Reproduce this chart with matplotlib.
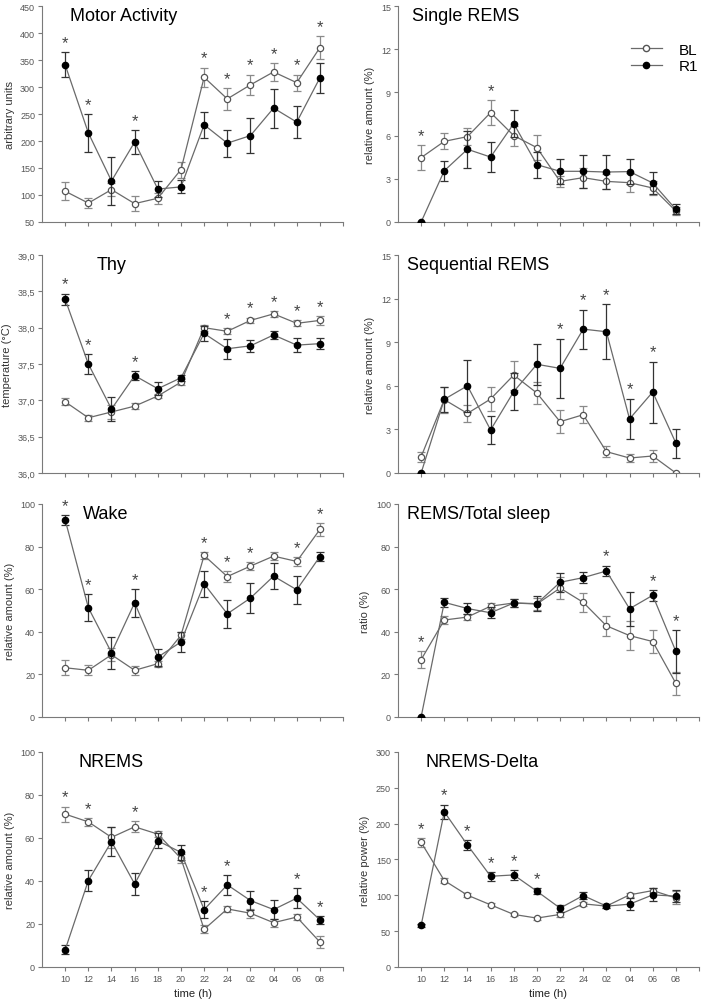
import numpy as np
import matplotlib
matplotlib.use("Agg")
import matplotlib.pyplot as plt
from matplotlib.ticker import FuncFormatter
from matplotlib.lines import Line2D

plt.rcParams['font.family'] = ['Liberation Sans', 'DejaVu Sans']

hours = ["10", "12", "14", "16", "18", "20", "22", "24", "02", "04", "06", "08"]

# motor activity
motor_bl = [107, 85, 110, 84, 94, 147, 318, 278, 304, 328, 308, 373]
motor_bl_err = [17, 10, 12, 14, 10, 15, 18, 20, 19, 16, 15, 22]
motor_r1 = [341, 215, 126, 198, 111, 115, 230, 196, 210, 261, 235, 317]
motor_r1_err = [23, 35, 44, 22, 15, 12, 24, 25, 33, 36, 29, 28]
motor_sig = [0, 1, 3, 6, 7, 8, 9, 10, 11]

# single REMS
srems_bl = [4.47, 5.6, 5.93, 7.6, 6.0, 5.16, 2.82, 3.08, 2.82, 2.73, 2.36, 0.76]
srems_bl_err = [0.85, 0.55, 0.6, 0.87, 0.7, 0.85, 0.4, 0.7, 0.5, 0.65, 0.5, 0.3]
srems_r1 = [0.0, 3.56, 5.05, 4.51, 6.83, 3.98, 3.52, 3.52, 3.47, 3.5, 2.71, 0.88]
srems_r1_err = [0.0, 0.68, 1.3, 1.05, 0.92, 0.9, 0.88, 1.13, 1.15, 0.85, 0.74, 0.35]
srems_sig = [0, 3]

# body temperature
thy_bl = [36.98, 36.76, 36.84, 36.92, 37.06, 37.25, 38.0, 37.95, 38.1, 38.19, 38.06, 38.1]
thy_bl_err = [0.05, 0.04, 0.1, 0.04, 0.03, 0.04, 0.04, 0.04, 0.04, 0.04, 0.04, 0.06]
thy_r1 = [38.39, 37.5, 36.88, 37.34, 37.16, 37.31, 37.92, 37.71, 37.75, 37.9, 37.76, 37.78]
thy_r1_err = [0.08, 0.14, 0.16, 0.06, 0.09, 0.04, 0.1, 0.14, 0.08, 0.05, 0.1, 0.08]
thy_sig = [0, 1, 3, 7, 8, 9, 10, 11]

# sequential REMS
qrems_bl = [1.12, 5.05, 4.1, 5.09, 6.74, 5.5, 3.53, 4.01, 1.47, 1.03, 1.17, 0.0]
qrems_bl_err = [0.35, 0.9, 0.6, 0.8, 1.0, 0.75, 0.8, 0.6, 0.4, 0.3, 0.4, 0.0]
qrems_r1 = [0.0, 5.07, 6.0, 2.96, 5.6, 7.48, 7.2, 9.9, 9.72, 3.72, 5.57, 2.06]
qrems_r1_err = [0.0, 0.85, 1.8, 0.95, 1.25, 1.4, 2.05, 1.35, 1.9, 1.4, 2.1, 1.0]
qrems_sig = [6, 7, 8, 9, 10]

# wake
wake_bl = [23.1, 21.9, 29.2, 21.9, 25.0, 38.3, 75.8, 65.9, 70.8, 75.5, 73.0, 88.0]
wake_bl_err = [3.5, 2.3, 3.0, 2.0, 1.5, 1.5, 1.7, 2.5, 2.0, 2.0, 2.2, 3.0]
wake_r1 = [92.5, 51.3, 30.2, 53.6, 28.1, 35.2, 62.5, 48.4, 55.8, 66.1, 59.7, 75.3]
wake_r1_err = [2.3, 6.3, 7.5, 6.5, 4.0, 4.5, 6.0, 6.6, 7.0, 6.0, 6.5, 2.0]
wake_sig = [0, 1, 3, 6, 7, 8, 10, 11]

# REMS / total sleep
ratio_bl = [26.9, 45.5, 46.9, 52.0, 53.5, 53.0, 60.5, 53.8, 42.8, 38.2, 35.4, 15.8]
ratio_bl_err = [4.0, 2.0, 1.5, 1.5, 2.0, 3.0, 5.0, 4.5, 4.8, 6.8, 5.5, 5.5]
ratio_r1 = [0.0, 53.8, 50.9, 48.9, 53.5, 53.2, 63.2, 65.4, 68.5, 50.8, 57.1, 30.8]
ratio_r1_err = [0.0, 2.0, 2.8, 2.5, 1.8, 3.5, 4.5, 2.5, 2.5, 8.0, 2.5, 10.0]
ratio_sig = [0, 8, 10, 11]

# NREMS
nrems_bl = [71.1, 67.5, 60.3, 65.2, 61.8, 50.5, 17.5, 27.0, 25.0, 20.6, 23.2, 11.6]
nrems_bl_err = [3.5, 1.8, 5.0, 2.5, 1.5, 2.0, 1.8, 1.5, 2.0, 1.8, 1.5, 3.0]
nrems_r1 = [8.0, 40.2, 58.3, 38.6, 58.7, 53.3, 26.7, 38.2, 30.9, 26.7, 32.0, 21.9]
nrems_r1_err = [2.0, 5.0, 6.7, 5.0, 3.5, 3.5, 3.8, 4.5, 4.6, 4.6, 4.8, 1.8]
nrems_sig = [0, 1, 3, 6, 7, 10, 11]

# NREMS delta power
delta_bl = [173.9, 120.6, 100.2, 86.7, 73.3, 68.2, 73.3, 88.1, 84.9, 100.6, 106.6, 96.4]
delta_bl_err = [6, 3, 2.5, 2, 2, 2, 3, 3, 3, 3, 3.5, 9]
delta_r1 = [58.0, 216.5, 170.2, 126.6, 128.4, 105.7, 82.1, 99.7, 84.9, 87.6, 100.6, 98.8]
delta_r1_err = [2.5, 10, 7, 6, 7, 4, 5, 5, 3, 8, 9, 8]
delta_sig = [0, 1, 2, 3, 4, 5]

GRAY = "#6a6a6a"
MS = 4.5


def panel(ax, bl, bl_err, r1, r1_err, sig, title, tx, ylabel, ylim, ystep, comma=False, xlabels=False):
    x = np.arange(len(hours))
    ax.errorbar(x, bl, yerr=bl_err, color=GRAY, lw=0.9, ecolor="#8a8a8a", elinewidth=0.9,
                capsize=3, capthick=0.9, marker="o", ms=MS, mfc="white", mec="#555555",
                mew=0.9, zorder=2)
    ax.errorbar(x, r1, yerr=r1_err, color=GRAY, lw=0.9, ecolor="#333333", elinewidth=0.9,
                capsize=3, capthick=0.9, marker="o", ms=MS, mfc="black", mec="black",
                zorder=3)
    top = np.maximum(np.array(bl) + np.array(bl_err), np.array(r1) + np.array(r1_err))
    for i in sig:
        ax.annotate("*", (x[i], top[i]), xytext=(0, 1.5), textcoords="offset points",
                    ha="center", va="bottom", fontsize=12, color="#444444")
    ax.set_xlim(-1, 12)
    ax.set_ylim(*ylim)
    ax.set_yticks(np.arange(ylim[0], ylim[1] + ystep / 2, ystep))
    if comma:
        ax.yaxis.set_major_formatter(FuncFormatter(lambda v, p: f"{v:.1f}".replace(".", ",")))
    ax.set_xticks(np.arange(13))
    if xlabels:
        ax.set_xticklabels(hours + [""])
        ax.set_xlabel("time (h)", fontsize=8, color="#222222", labelpad=4)
    else:
        ax.set_xticklabels([])
    for s in ["top", "right"]:
        ax.spines[s].set_visible(False)
    for s in ["left", "bottom"]:
        ax.spines[s].set_color("#7a7a7a")
        ax.spines[s].set_linewidth(0.8)
    ax.tick_params(direction="out", length=3, width=0.8, color="#7a7a7a",
                   labelsize=6.5, labelcolor="#555555", pad=2)
    ax.set_ylabel(ylabel, fontsize=8, color="#333333", labelpad=4)
    ax.text(tx, 0.955, title, transform=ax.transAxes, fontsize=13, va="center", ha="left")


fig = plt.figure(figsize=(7.04, 10.04), dpi=100)
lefts = [0.0597, 0.5653]
rows = [(0.7779, 0.2151), (0.5279, 0.2171), (0.2849, 0.2122), (0.0359, 0.2141)]
W = 0.4276

ax = fig.add_axes([lefts[0], rows[0][0], W, rows[0][1]])
panel(ax, motor_bl, motor_bl_err, motor_r1, motor_r1_err, motor_sig, "Motor Activity", 0.093,
      "arbitrary units", (50, 450), 50)

ax = fig.add_axes([lefts[1], rows[0][0], W, rows[0][1]])
panel(ax, srems_bl, srems_bl_err, srems_r1, srems_r1_err, srems_sig, "Single REMS", 0.047,
      "relative amount (%)", (0, 15), 3)
handles = [Line2D([], [], color=GRAY, lw=0.9, marker="o", ms=MS, mfc="white", mec="#555555"),
           Line2D([], [], color=GRAY, lw=0.9, marker="o", ms=MS, mfc="black", mec="black")]
ax.legend(handles, ["BL", "R1"], loc="center", bbox_to_anchor=(0.885, 0.76), frameon=False,
          fontsize=11, handlelength=2.0, labelspacing=0.15, handletextpad=1.1, borderpad=0)

ax = fig.add_axes([lefts[0], rows[1][0], W, rows[1][1]])
panel(ax, thy_bl, thy_bl_err, thy_r1, thy_r1_err, thy_sig, "Thy", 0.18,
      "temperature (°C)", (36.0, 39.0), 0.5, comma=True)

ax = fig.add_axes([lefts[1], rows[1][0], W, rows[1][1]])
panel(ax, qrems_bl, qrems_bl_err, qrems_r1, qrems_r1_err, qrems_sig, "Sequential REMS", 0.03,
      "relative amount (%)", (0, 15), 3)

ax = fig.add_axes([lefts[0], rows[2][0], W, rows[2][1]])
panel(ax, wake_bl, wake_bl_err, wake_r1, wake_r1_err, wake_sig, "Wake", 0.136,
      "relative amount (%)", (0, 100), 20)

ax = fig.add_axes([lefts[1], rows[2][0], W, rows[2][1]])
panel(ax, ratio_bl, ratio_bl_err, ratio_r1, ratio_r1_err, ratio_sig, "REMS/Total sleep", 0.03,
      "ratio (%)", (0, 100), 20)

ax = fig.add_axes([lefts[0], rows[3][0], W, rows[3][1]])
panel(ax, nrems_bl, nrems_bl_err, nrems_r1, nrems_r1_err, nrems_sig, "NREMS", 0.12,
      "relative amount (%)", (0, 100), 20, xlabels=True)

ax = fig.add_axes([lefts[1], rows[3][0], W, rows[3][1]])
panel(ax, delta_bl, delta_bl_err, delta_r1, delta_r1_err, delta_sig, "NREMS-Delta", 0.09,
      "relative power (%)", (0, 300), 50, xlabels=True)

fig.savefig("out.png", dpi=100)
